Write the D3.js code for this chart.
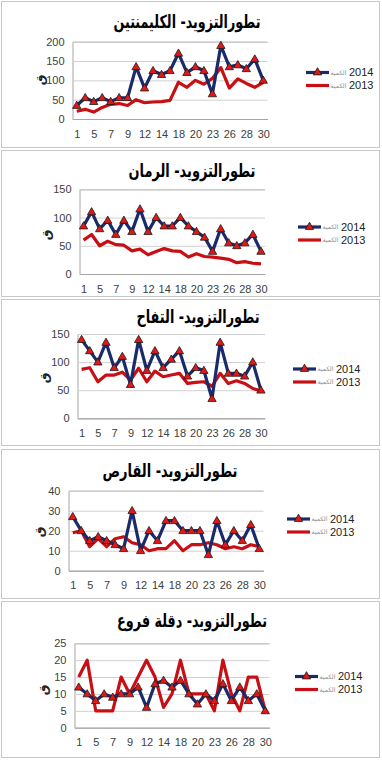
<!DOCTYPE html>
<html>
<head>
<meta charset="utf-8">
<script src="https://cdn.jsdelivr.net/npm/d3@7"></script>
<style>
  body { margin: 0; background: #fff; }
</style>
</head>
<body>
<div id="chart"></div>
<script>
// days of the month (categories), every other one is labelled
const days = ["1","3","5","6","7","8","9","10","12","13","14","16","18","19","20","21","23","24","26","27","28","29","30"];

const titles = [
  "تطورالتزويد- الكليمنتين",
  "تطورالتزويد- الرمان",
  "تطورالتزويد- التفاح",
  "تطورالتزويد- القارص",
  "تطورالتزويد- دقلة فروع"
];
const seriesNames = ["2014", "2013"];
const qtyLabel = "الكمية";
const unitLabel = "ق";

const clementine2014 = [35,55,45,55,45,55,55,135,80,125,115,125,170,120,135,125,65,190,135,140,130,155,100];
const clementine2013 = [20,25,18,30,38,40,35,50,42,44,45,48,95,82,100,90,105,133,80,104,92,82,95];
const pomegranate2014 = [85,110,80,95,70,95,75,115,75,100,85,85,100,85,75,65,40,80,55,50,55,70,40];
const pomegranate2013 = [60,70,50,58,52,51,41,44,34,40,45,41,40,30,36,31,30,28,26,20,22,19,18];
const apple2014 = [140,120,100,135,90,110,60,140,85,120,90,105,120,75,90,85,35,135,80,80,75,100,50];
const apple2013 = [87,90,65,77,77,82,68,89,65,84,74,77,80,62,64,65,57,80,62,67,62,53,49];
const tangerine2014 = [27,20,15,17,15,13,11,30,10,20,15,25,25,20,20,20,8,25,13,20,15,23,11];
const tangerine2013 = [19,20,12,16,12,16,17,14,13,10,11,11,15,10,13,13,14,13,11,12,11,13,12];
const dates2014 = [12,10,8,10,9,10,10,12,6,13,14,12,14,10,7,10,8,13,8,12,8,10,5];
const dates2013 = [15,20,5,5,5,15,10,15,20,15,6,10,20,10,10,10,5,20,10,5,15,15,5];

const yMaxes = [200, 150, 150, 40, 25];
const ySteps = [50, 50, 50, 10, 5];

const panels = [
  {s14: clementine2014, s13: clementine2013},
  {s14: pomegranate2014, s13: pomegranate2013},
  {s14: apple2014, s13: apple2013},
  {s14: tangerine2014, s13: tangerine2013},
  {s14: dates2014, s13: dates2013}
];

// where each panel sits on the page
const layout = [
  {top:1,   bottom:147, L:72.5, R:267.5, y0:119,   y1:41.7,  tx:187, ty:28,  tw:147, lx:306, ly:72.5,  ax:40, ay:80},
  {top:150, bottom:296, L:79.5, R:265,   y0:274,   y1:189.3, tx:192, ty:177, tw:127, lx:298, ly:227,   ax:46, ay:235},
  {top:299, bottom:445, L:77.5, R:265,   y0:418.3, y1:334,   tx:198, ty:323, tw:123, lx:293, ly:369,   ax:44, ay:378},
  {top:449, bottom:598, L:68.5, R:263.5, y0:570.7, y1:490.7, tx:170, ty:477, tw:135, lx:287, ly:519,   ax:39, ay:532},
  {top:601, bottom:757, L:74.5, R:269.5, y0:727.7, y1:643.3, tx:192, ty:627, tw:150, lx:295, ly:676.5, ax:43, ay:690}
];

const blue = "#1b2a6b", red = "#c80f14";
const numFont = "'Liberation Sans', Arial, sans-serif";
const arFont = "'DejaVu Sans', sans-serif";

const svg = d3.select("#chart")
  .append("svg")
    .attr("width", 382)
    .attr("height", 760);

const tri = d3.symbol().type(d3.symbolTriangle).size(30);

// squeeze a text horizontally so it spans w pixels
function fitWidth(sel, cx, cy, w) {
  const len = sel.node().getComputedTextLength();
  sel.attr("transform", `translate(${cx},${cy}) scale(${w / len},1)`);
}

panels.forEach((p, i) => {
  const lay = layout[i];
  const g = svg.append("g");

  // panel frame
  g.append("rect")
    .attr("x", 1.5).attr("y", lay.top + 0.5)
    .attr("width", 378).attr("height", lay.bottom - lay.top)
    .attr("fill", "none").attr("stroke", "#c8c8c8");

  // title
  const t = g.append("text")
    .attr("text-anchor", "middle")
    .attr("direction", "rtl")
    .style("font-family", arFont)
    .style("font-weight", "bold")
    .style("font-size", "18px")
    .attr("fill", "#000")
    .text(titles[i]);
  fitWidth(t, lay.tx, lay.ty, lay.tw);

  const x = d3.scalePoint().domain(days).range([lay.L, lay.R]).padding(0.5);
  const y = d3.scaleLinear().domain([0, yMaxes[i]]).range([lay.y0, lay.y1]);
  const yTicks = d3.range(0, yMaxes[i] + 1, ySteps[i]);

  // y axis with gridlines
  const yAx = g.append("g")
    .attr("transform", `translate(${lay.L},0)`)
    .call(d3.axisLeft(y).tickValues(yTicks).tickSize(-(lay.R - lay.L)).tickPadding(8));
  yAx.select(".domain").attr("stroke", "#a6a6a6");
  yAx.selectAll(".tick line").attr("stroke", "#d0d0d0");
  yAx.selectAll(".tick text")
    .style("font-family", numFont).style("font-size", "11px").attr("fill", "#404040");

  // x axis
  const xAx = g.append("g")
    .attr("transform", `translate(0,${lay.y0})`)
    .call(d3.axisBottom(x).tickValues(days.filter((d, k) => k % 2 === 0)).tickSize(0).tickPadding(11));
  xAx.select(".domain").attr("stroke", "#a6a6a6");
  xAx.selectAll(".tick text")
    .style("font-family", numFont).style("font-size", "11px").attr("fill", "#404040");

  // y axis title
  g.append("text")
    .attr("transform", `translate(${lay.ax},${lay.ay}) rotate(-90)`)
    .attr("text-anchor", "middle")
    .attr("dy", "0.35em")
    .style("font-family", arFont)
    .style("font-weight", "bold")
    .style("font-size", "12px")
    .attr("fill", "#222")
    .text(unitLabel);

  const line = d3.line().x((d, k) => x(days[k])).y(d => y(d));

  g.append("path")
    .datum(p.s13)
    .attr("d", line)
    .attr("fill", "none").attr("stroke", red)
    .attr("stroke-width", 3.2).attr("stroke-linejoin", "round");

  g.append("path")
    .datum(p.s14)
    .attr("d", line)
    .attr("fill", "none").attr("stroke", blue)
    .attr("stroke-width", 3.2).attr("stroke-linejoin", "round");

  g.selectAll(".mk")
    .data(p.s14)
    .join("path")
      .attr("class", "mk")
      .attr("d", tri)
      .attr("transform", (d, k) => `translate(${x(days[k])},${y(d) + 0.5})`)
      .attr("fill", "#e01818").attr("stroke", "#1a1a1a").attr("stroke-width", 0.8);

  // legend
  seriesNames.forEach((name, k) => {
    const ly = lay.ly + k * 13;
    g.append("line")
      .attr("x1", lay.lx).attr("x2", lay.lx + 23)
      .attr("y1", ly).attr("y2", ly)
      .attr("stroke", k === 0 ? blue : red).attr("stroke-width", 3.2);
    if (k === 0) {
      g.append("path").attr("d", tri)
        .attr("transform", `translate(${lay.lx + 11.5},${ly})`)
        .attr("fill", "#e01818").attr("stroke", "#1a1a1a").attr("stroke-width", 0.8);
    }
    const q = g.append("text")
      .attr("x", lay.lx + 24.5).attr("y", ly).attr("dy", "0.35em")
      .style("font-family", arFont).style("font-size", "8px")
      .attr("fill", "#8c8c8c")
      .text(qtyLabel);
    const qLen = q.node().getComputedTextLength();
    q.style("font-size", (8 * 16 / qLen) + "px");
    g.append("text")
      .attr("x", lay.lx + 43).attr("y", ly).attr("dy", "0.35em")
      .style("font-family", numFont).style("font-size", "11px")
      .attr("fill", "#222")
      .text(name);
  });
});
</script>
</body>
</html>
